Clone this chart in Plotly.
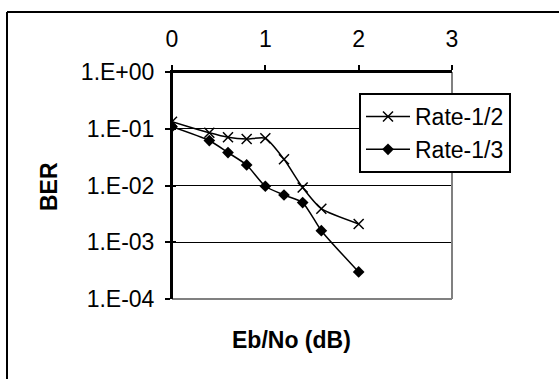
import plotly.graph_objects as go

ebno_half = [0.0, 0.4, 0.6, 0.8, 1.0, 1.2, 1.4, 1.6, 2.0]
ber_half = [0.133, 0.085, 0.071, 0.066, 0.068, 0.029, 0.0092, 0.0039, 0.0021]

ebno_third = [0.0, 0.4, 0.6, 0.8, 1.0, 1.2, 1.4, 1.6, 2.0]
ber_third = [0.109, 0.062, 0.038, 0.023, 0.0097, 0.0068, 0.005, 0.0016, 0.0003]

x_ticks = [0, 1, 2, 3]
y_tickvals = [1, 0.1, 0.01, 0.001, 0.0001]
y_ticktext = ["1.E+00", "1.E-01", "1.E-02", "1.E-03", "1.E-04"]

FONT = "Liberation Sans, Arial, sans-serif"
FS = 23

WIDTH, HEIGHT = 559, 379
ML, MT = 7, 12                      # outer chart frame (left / top edges)
AW, AH = WIDTH - ML, HEIGHT - MT    # paper area size
L, R, T, B = 172, 452, 72, 299      # plot area in pixels


def px_x(p):
    return (p - ML) / AW


def px_y(p):
    return (HEIGHT - p) / AH


fig = go.Figure()
fig.add_trace(go.Scatter(
    x=ebno_half, y=ber_half, name="Rate-1/2", mode="lines+markers",
    line=dict(color="black", width=1.5, shape="spline", smoothing=0.6),
    marker=dict(symbol="x-thin", size=10, line=dict(color="black", width=1.5), color="black"),
    legendgroup="a",
))
fig.add_trace(go.Scatter(
    x=ebno_third, y=ber_third, name="Rate-1/3", mode="lines+markers",
    line=dict(color="black", width=1.5, shape="spline", smoothing=0.6),
    marker=dict(symbol="diamond", size=9, color="black"),
    legendgroup="b",
))
fig.add_trace(go.Scatter(x=[None], y=[None], yaxis="y2", showlegend=False, hoverinfo="skip"))
fig.add_trace(go.Scatter(x=[None], y=[None], xaxis="x3", yaxis="y3", showlegend=False,
                         hoverinfo="skip"))

fig.update_layout(
    width=WIDTH, height=HEIGHT,
    margin=dict(l=ML, r=0, t=MT, b=0, autoexpand=False),
    paper_bgcolor="white", plot_bgcolor="rgba(0,0,0,0)",
    font=dict(family=FONT, size=FS, color="black"),
    showlegend=True,
    legend=dict(
        x=px_x(359), y=px_y(93), xanchor="left", yanchor="top",
        bordercolor="black", borderwidth=2, bgcolor="white",
        font=dict(size=FS, family=FONT, color="black"),
        itemwidth=44, tracegroupgap=0,
    ),
    xaxis=dict(
        domain=[px_x(L), px_x(R)], anchor="y",
        side="top", range=[0, 3], tickvals=x_ticks, ticktext=[str(v) for v in x_ticks],
        showline=True, linecolor="black", linewidth=2,
        ticks="outside", ticklen=5, tickwidth=2, tickcolor="black",
        showgrid=False, zeroline=False, ticklabelstandoff=9,
    ),
    yaxis=dict(
        domain=[px_y(B), px_y(T)], anchor="x",
        type="log", range=[-4, 0], tickvals=y_tickvals, ticktext=y_ticktext,
        showline=True, linecolor="black", linewidth=2,
        ticks="outside", ticklen=5, tickwidth=2, tickcolor="black",
        showgrid=True, gridcolor="black", gridwidth=1, zeroline=False,
        ticklabelstandoff=6,
    ),
    yaxis2=dict(
        type="log", range=[-4, 0], tickvals=y_tickvals, overlaying="y",
        side="left", showticklabels=False, ticks="inside", ticklen=4,
        tickwidth=2, tickcolor="black", showgrid=False, showline=False, zeroline=False,
    ),
    # axes used only to draw the outer chart frame (left and top edges)
    xaxis3=dict(
        domain=[0, 1], anchor="free", position=1, side="top",
        showline=True, linecolor="black", linewidth=2, showticklabels=False,
        ticks="", showgrid=False, zeroline=False,
    ),
    yaxis3=dict(
        domain=[0, 1], anchor="free", position=0, side="left",
        showline=True, linecolor="black", linewidth=2, showticklabels=False,
        ticks="", showgrid=False, zeroline=False,
    ),
    shapes=[
        dict(type="line", xref="x domain", yref="y domain", x0=0, x1=1, y0=0, y1=0,
             line=dict(color="#808080", width=2), layer="above"),
        dict(type="line", xref="x domain", yref="y domain", x0=1, x1=1, y0=0, y1=1,
             line=dict(color="#808080", width=2), layer="above"),
        dict(type="line", xref="x domain", yref="y domain", x0=0, x1=0, y0=0, y1=1,
             line=dict(color="black", width=2), layer="above"),
        dict(type="line", xref="x domain", yref="y domain", x0=0, x1=1, y0=1, y1=1,
             line=dict(color="black", width=2), layer="above"),
    ],
    annotations=[
        dict(text="<b>Eb/No (dB)</b>", xref="paper", yref="paper",
             x=px_x(291), y=px_y(340), xanchor="center", yanchor="middle",
             showarrow=False, font=dict(size=FS, family=FONT, color="black")),
        dict(text="<b>BER</b>", xref="paper", yref="paper", textangle=-90,
             x=px_x(49), y=px_y(187), xanchor="center", yanchor="middle",
             showarrow=False, font=dict(size=FS, family=FONT, color="black")),
    ],
)

fig.write_html("out.html")
